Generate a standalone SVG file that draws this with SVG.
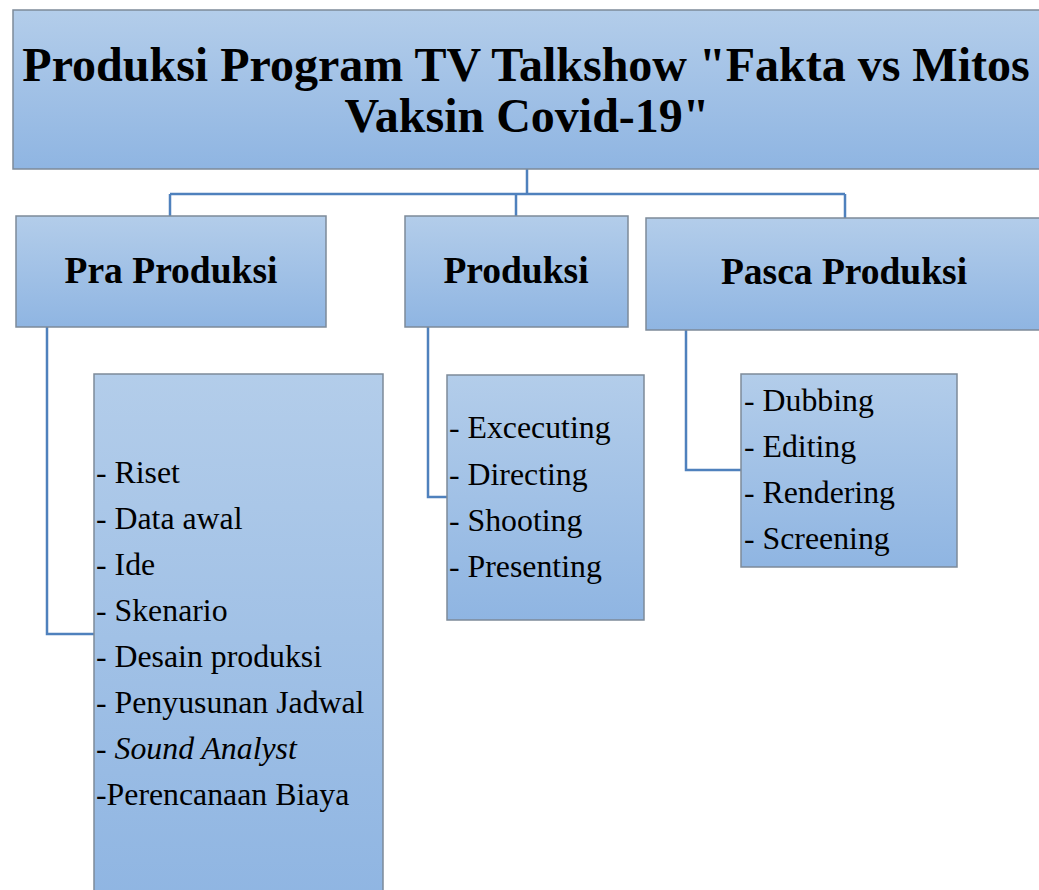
<svg xmlns="http://www.w3.org/2000/svg" width="1039" height="890" viewBox="0 0 1039 890">
<defs>
<linearGradient id="g" x1="0" y1="0" x2="0" y2="1">
<stop offset="0" stop-color="#b3cdea"/>
<stop offset="1" stop-color="#8fb5e2"/>
</linearGradient>
<style>
.box{fill:url(#g);stroke:#7d8a99;stroke-width:1.5}
.title{font-family:"Liberation Serif",serif;font-weight:bold;font-size:48px;fill:#000;text-anchor:middle}
.head{font-family:"Liberation Serif",serif;font-weight:bold;font-size:37.5px;fill:#000;text-anchor:middle}
.item{font-family:"Liberation Serif",serif;font-size:31.8px;fill:#000}
.conn{fill:none;stroke:#4f81bd;stroke-width:2.5}
</style>
</defs>
<rect width="1039" height="890" fill="#fff"/>
<g id="connectors">
<path class="conn" d="M527,169 V194 M170,194 H845 M170,194 V216 M516,194 V216 M845,194 V218"/>
<path class="conn" d="M47,327 V634 H94"/>
<path class="conn" d="M428,327 V497 H447"/>
<path class="conn" d="M686,330 V470 H741"/>
</g>
<g id="title">
<rect class="box" x="13" y="10" width="1040" height="159"/>
<text class="title" x="526" y="81">Produksi Program TV Talkshow "Fakta vs Mitos</text>
<text class="title" x="527" y="132">Vaksin Covid-19"</text>
</g>
<g id="pra-produksi">
<rect class="box" x="16" y="216" width="310" height="111"/>
<text class="head" x="171" y="283">Pra Produksi</text>
</g>
<g id="produksi">
<rect class="box" x="405" y="216" width="223" height="111"/>
<text class="head" x="516" y="283">Produksi</text>
</g>
<g id="pasca-produksi">
<rect class="box" x="646" y="218" width="400" height="112"/>
<text class="head" x="844" y="284">Pasca Produksi</text>
</g>
<g id="pra-items">
<rect class="box" x="94" y="374" width="289" height="530"/>
<text class="item" x="96" y="483" xml:space="preserve">- Riset</text>
<text class="item" x="96" y="529" xml:space="preserve">- Data awal</text>
<text class="item" x="96" y="575" xml:space="preserve">- Ide</text>
<text class="item" x="96" y="621" xml:space="preserve">- Skenario</text>
<text class="item" x="96" y="667" xml:space="preserve">- Desain produksi</text>
<text class="item" x="96" y="713" xml:space="preserve">- Penyusunan Jadwal</text>
<text class="item" x="96" y="759" xml:space="preserve">- <tspan font-style="italic">Sound Analyst</tspan></text>
<text class="item" x="96" y="805">-Perencanaan Biaya</text>
</g>
<g id="produksi-items">
<rect class="box" x="447" y="375" width="197" height="245"/>
<text class="item" x="449" y="438" xml:space="preserve">- Excecuting</text>
<text class="item" x="449" y="485" xml:space="preserve">- Directing</text>
<text class="item" x="449" y="531" xml:space="preserve">- Shooting</text>
<text class="item" x="449" y="577" xml:space="preserve">- Presenting</text>
</g>
<g id="pasca-items">
<rect class="box" x="741" y="374" width="216" height="193"/>
<text class="item" x="744" y="411" xml:space="preserve">- Dubbing</text>
<text class="item" x="744" y="457" xml:space="preserve">- Editing</text>
<text class="item" x="744" y="503" xml:space="preserve">- Rendering</text>
<text class="item" x="744" y="549" xml:space="preserve">- Screening</text>
</g>
</svg>
